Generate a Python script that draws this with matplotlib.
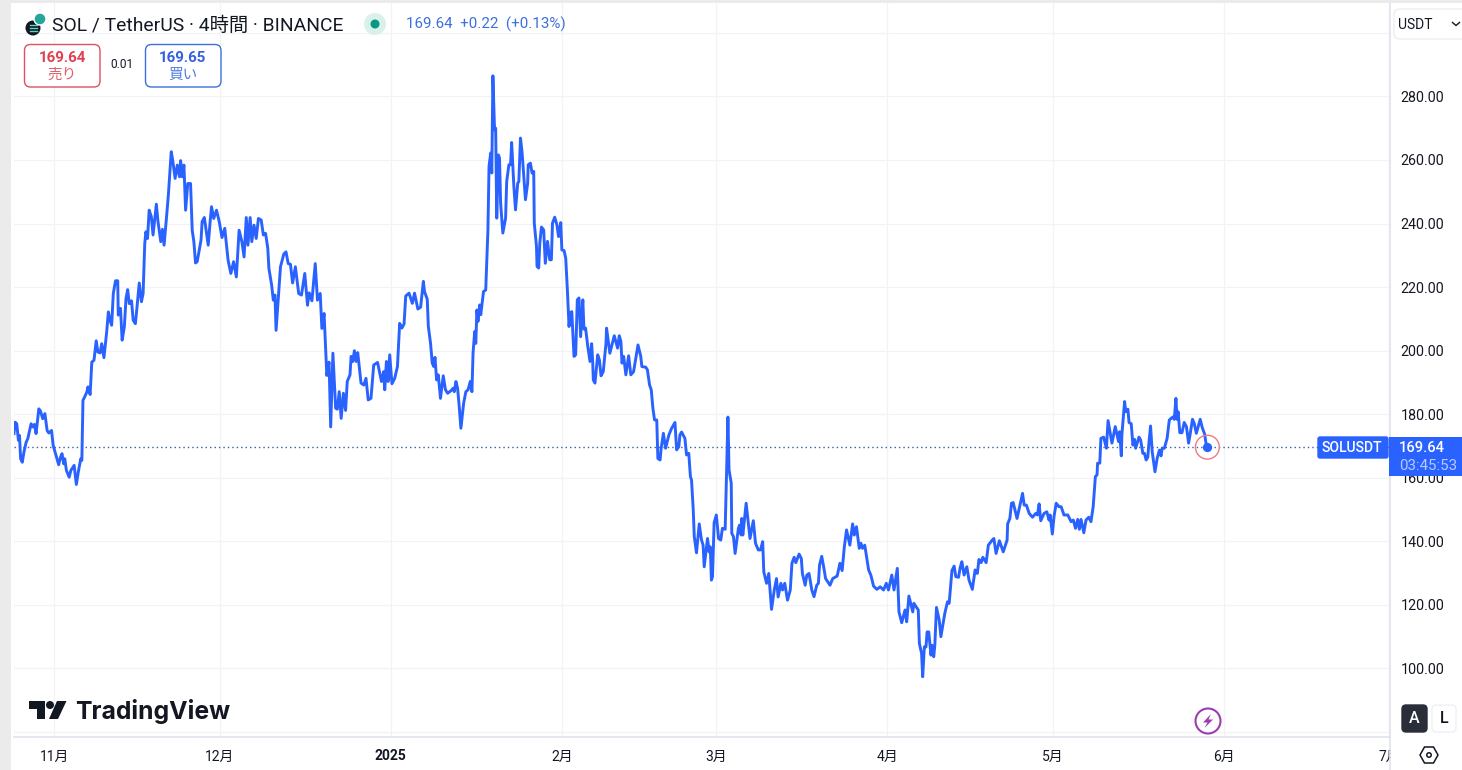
import matplotlib
matplotlib.use("Agg")
import matplotlib.pyplot as plt
from matplotlib.patches import Rectangle, FancyBboxPatch, Circle, Polygon

plt.rcParams['font.family'] = ['Roboto', 'Noto Sans CJK JP', 'DejaVu Sans']

# days since 2024-11-01, prices in USDT
days = [
    -7.3, -7.1, -6.8, -6.5, -6.3, -6.1, -5.8, -5.5, -5.1, -4.8,
    -4.2, -3.9, -3.6, -3.3, -2.8, -2.5, -2.1, -1.7, -1.3, -1.0,
    -0.5, -0.2, 0.2, 0.5, 0.8, 1.1, 1.4, 1.7, 1.9, 2.2,
    2.7, 3.0, 3.6, 4.0, 4.4, 4.8, 5.0, 5.2, 5.5, 5.9,
    6.1, 6.5, 6.8, 7.2, 7.6, 7.9, 8.3, 8.6, 9.0, 9.5,
    9.8, 10.1, 10.4, 10.7, 11.1, 11.5, 11.6, 12.0, 12.3, 12.7,
    13.0, 13.3, 13.6, 14.0, 14.3, 14.7, 15.0, 15.4, 15.8, 16.1,
    16.4, 16.6, 16.9, 17.2, 17.6, 17.9, 18.2, 18.5, 18.8, 19.3,
    19.6, 19.9, 20.3, 20.7, 21.2, 21.5, 21.9, 22.3, 22.7, 22.9,
    23.2, 23.5, 23.8, 24.2, 24.7, 25.0, 25.3, 25.6, 25.9, 26.6,
    26.8, 27.2, 27.9, 28.3, 28.5, 28.9, 29.4, 29.9, 30.4, 30.9,
    31.5, 32.0, 32.5, 33.0, 33.5, 34.0, 34.4, 34.8, 35.1, 35.5,
    35.8, 36.2, 36.6, 37.0, 37.5, 37.9, 38.3, 38.7, 38.9, 39.4,
    39.7, 40.0, 40.2, 40.7, 41.0, 41.6, 42.0, 42.4, 42.8, 43.2,
    43.7, 44.3, 44.8, 45.4, 45.9, 46.2, 46.7, 47.3, 47.7, 48.2,
    48.5, 48.9, 49.4, 49.8, 50.1, 50.4, 50.5, 51.0, 51.3, 51.65,
    52.0, 52.4, 52.8, 53.1, 53.6, 53.8, 54.1, 54.4, 54.7, 55.0,
    55.6, 56.1, 56.5, 56.9, 57.4, 57.9, 58.6, 59.3, 59.7, 59.9,
    60.2, 60.5, 60.8, 61.2, 61.7, 62.2, 62.6, 63.0, 63.4, 63.7,
    64.3, 64.9, 65.3, 65.9, 66.4, 66.9, 67.1, 67.6, 67.8, 68.2,
    68.5, 68.8, 69.0, 69.3, 69.6, 70.0, 70.5, 70.9, 71.3, 71.9,
    72.3, 72.5, 72.8, 73.1, 73.4, 73.7, 74.2, 74.6, 75.0, 75.4,
    75.7, 75.9, 76.2, 76.4, 76.6, 76.8, 77.1, 77.3, 77.8, 78.2,
    78.6, 78.8, 79.1, 79.3, 79.5, 79.8, 80.0, 80.2, 80.5, 80.7,
    80.9, 81.3, 81.8, 82.0, 82.4, 82.7, 82.9, 83.3, 83.6, 84.0,
    84.2, 84.5, 84.8, 85.4, 85.8, 85.9, 86.3, 86.6, 86.9, 87.0,
    87.4, 87.5, 87.8, 88.0, 88.3, 88.7, 89.0, 89.4, 89.8, 90.1,
    90.3, 90.7, 91.1, 91.4, 91.8, 92.0, 92.4, 92.7, 93.0, 93.3,
    93.5, 93.8, 94.2, 94.5, 94.8, 95.1, 95.4, 95.8, 96.0, 96.3,
    96.7, 97.1, 97.4, 97.6, 97.7, 98.0, 98.5, 98.8, 99.1, 99.5,
    100.0, 100.1, 100.7, 101.5, 102.1, 102.4, 102.7, 102.9, 103.2, 103.6,
    104.1, 104.5, 105.0, 105.8, 106.3, 106.5, 107.2, 107.5, 107.9, 108.2,
    108.5, 108.8, 109.2, 109.4, 109.8, 110.0, 110.4, 110.8, 111.4, 111.9,
    112.5, 112.8, 113.2, 113.4, 113.7, 114.3, 114.6, 115.0, 115.3, 115.5,
    115.8, 116.0, 116.4, 116.9, 117.3, 117.6, 117.8, 118.4, 118.7, 118.9,
    119.1, 119.3, 119.6, 120.0, 120.4, 120.8, 121.1, 121.6, 122.1, 122.3,
    122.7, 122.8, 123.1, 123.4, 124.0, 124.2, 124.5, 124.6, 124.8, 125.4,
    126.1, 126.7, 127.1, 127.6, 128.0, 128.4, 128.6, 129.1, 129.5, 130.0,
    130.5, 130.9, 131.2, 131.7, 132.0, 132.4, 132.9, 133.4, 133.7, 134.1,
    134.4, 135.0, 135.4, 135.6, 136.1, 136.4, 136.8, 137.3, 137.7, 138.2,
    138.5, 138.7, 139.1, 139.5, 139.8, 140.6, 141.1, 141.9, 142.4, 142.8,
    143.2, 143.6, 144.2, 144.7, 145.0, 145.4, 145.9, 146.2, 146.5, 146.9,
    147.6, 148.0, 148.5, 149.1, 149.7, 150.3, 150.8, 151.2, 151.8, 152.2,
    152.8, 153.1, 153.6, 154.2, 154.5, 154.9, 155.6, 155.8, 156.6, 156.8,
    157.2, 157.4, 157.7, 158.0, 158.2, 158.5, 158.9, 159.1, 159.4, 159.6,
    159.9, 160.4, 160.7, 161.0, 161.4, 161.9, 162.2, 162.7, 163.1, 163.4,
    163.9, 164.2, 164.5, 164.9, 165.4, 165.8, 166.4, 166.9, 167.3, 167.6,
    168.0, 168.3, 168.9, 169.3, 170.0, 170.3, 170.7, 171.3, 172.0, 172.7,
    172.8, 173.2, 173.5, 173.8, 174.5, 175.5, 175.8, 176.2, 176.7, 177.3,
    177.9, 178.2, 178.5, 178.8, 179.4, 179.9, 180.3, 180.5, 180.9, 181.2,
    181.6, 182.1, 182.5, 183.0, 183.7, 184.3, 184.7, 185.1, 185.5, 185.8,
    186.1, 186.6, 187.0, 187.5, 187.9, 188.3, 188.7, 189.0, 189.1, 189.5,
    189.7, 190.2, 190.7, 191.0, 191.7, 192.3, 192.9, 193.1, 193.4, 193.5,
    194.0, 194.2, 194.6, 194.8, 195.2, 195.5, 195.8, 196.0, 196.6, 196.9,
    197.3, 197.6, 197.9, 198.2, 198.4, 198.7, 199.0, 199.5, 199.9, 200.3,
    200.6, 200.8, 201.2, 201.7, 202.1, 202.7, 203.0, 203.3, 203.5, 203.7,
    204.0, 204.4, 204.8, 205.2, 205.6, 205.9, 206.3, 206.6, 207.0, 207.7,
    208.1, 208.5, 208.8, 209.0,
]
prices = [
    173.9, 177.5, 177.0, 171.8, 173.3, 166.0, 164.9, 168.1, 171.2, 172.3,
    177.0, 176.0, 176.8, 173.9, 181.7, 181.0, 178.6, 180.2, 174.9, 174.1,
    174.9, 170.2, 167.8, 166.0, 164.1, 166.3, 167.6, 164.4, 166.0, 162.3,
    160.2, 162.3, 163.9, 157.9, 162.3, 166.0, 165.5, 184.4, 185.4, 187.0,
    188.6, 186.2, 196.4, 197.0, 203.1, 199.6, 199.3, 202.2, 197.8, 205.9,
    212.2, 209.6, 208.0, 218.0, 222.0, 222.0, 211.2, 213.3, 203.3, 207.5,
    216.4, 219.2, 214.8, 215.7, 209.6, 208.5, 213.8, 221.3, 215.4, 218.0,
    233.7, 237.4, 235.3, 244.2, 242.1, 236.4, 241.1, 246.1, 240.6, 234.3,
    238.2, 233.2, 241.1, 249.5, 262.6, 259.5, 254.2, 258.4, 254.7, 259.8,
    254.7, 258.4, 244.2, 252.6, 252.6, 237.9, 234.3, 227.6, 228.0, 234.8,
    240.6, 241.9, 233.2, 241.6, 245.3, 241.6, 244.2, 240.6, 235.6, 238.5,
    228.5, 224.3, 228.0, 223.2, 237.9, 234.3, 229.5, 241.9, 233.2, 241.9,
    234.3, 239.5, 235.3, 241.6, 241.1, 236.4, 236.9, 232.2, 225.9, 220.6,
    215.9, 217.5, 206.4, 219.0, 226.4, 230.4, 231.1, 227.4, 227.2, 221.3,
    226.4, 218.0, 217.5, 224.3, 214.3, 218.2, 215.7, 227.4, 215.9, 218.0,
    207.0, 211.7, 192.2, 196.4, 176.0, 194.3, 199.2, 181.9, 181.6, 187.1,
    178.7, 186.6, 181.2, 190.3, 192.4, 198.2, 196.6, 200.0, 196.6, 199.4,
    189.8, 189.2, 191.3, 184.5, 185.0, 195.5, 196.3, 190.3, 193.4, 187.7,
    196.6, 190.3, 198.7, 189.6, 191.3, 195.0, 208.6, 207.1, 208.4, 217.2,
    218.1, 214.9, 218.1, 213.1, 213.7, 221.8, 218.6, 216.2, 207.6, 202.3,
    196.1, 195.0, 197.9, 190.8, 192.4, 185.0, 192.1, 187.7, 186.6, 187.4,
    188.2, 187.1, 190.3, 188.2, 182.4, 175.6, 183.5, 187.1, 187.7, 190.3,
    187.1, 199.2, 206.0, 202.3, 212.8, 209.2, 214.4, 211.3, 218.6, 219.1,
    238.0, 258.0, 262.2, 255.9, 286.5, 269.5, 270.0, 241.7, 261.6, 260.6,
    246.4, 237.0, 241.7, 253.2, 258.5, 258.5, 265.5, 251.7, 244.3, 252.7,
    253.2, 266.9, 262.2, 247.5, 252.7, 258.5, 259.0, 255.9, 256.4, 240.1,
    232.8, 226.5, 226.0, 233.8, 238.9, 238.0, 227.5, 234.4, 228.6, 228.6,
    240.1, 242.0, 239.6, 235.9, 240.3, 231.7, 231.5, 229.1, 219.1, 207.6,
    211.8, 212.3, 198.2, 198.7, 216.0, 216.6, 204.4, 216.0, 206.8, 207.1,
    201.3, 196.6, 202.2, 196.1, 190.8, 189.8, 198.7, 197.1, 192.1, 193.4,
    202.3, 207.1, 199.2, 204.7, 200.8, 204.7, 202.9, 196.1, 198.2, 192.4,
    198.4, 192.4, 193.4, 201.8, 198.2, 195.0, 194.8, 194.0, 189.2, 187.7,
    181.9, 178.2, 178.2, 166.1, 165.6, 169.3, 174.0, 169.3, 173.5, 175.6,
    177.4, 168.8, 169.8, 173.5, 174.4, 172.4, 167.2, 167.7, 160.4, 159.3,
    150.4, 141.5, 136.4, 145.5, 140.5, 138.8, 132.0, 140.9, 136.7, 138.3,
    127.8, 128.9, 145.9, 148.3, 140.9, 140.4, 144.1, 143.8, 179.1, 162.5,
    158.3, 142.5, 141.5, 136.2, 144.1, 145.1, 142.0, 147.2, 142.0, 152.0,
    140.9, 146.5, 139.4, 137.3, 137.3, 139.9, 130.4, 126.8, 129.9, 118.6,
    124.7, 128.3, 122.5, 126.8, 124.7, 126.8, 121.5, 124.7, 133.1, 135.0,
    133.3, 136.0, 134.6, 129.9, 126.2, 129.4, 129.9, 124.7, 122.6, 126.2,
    126.8, 132.5, 135.3, 131.5, 128.3, 126.2, 128.3, 129.1, 133.1, 130.8,
    138.3, 143.6, 138.8, 145.5, 142.0, 144.6, 137.8, 139.4, 137.8, 138.8,
    131.0, 129.4, 125.9, 124.9, 125.7, 124.7, 126.8, 124.7, 129.4, 124.7,
    131.5, 117.8, 114.4, 118.4, 114.7, 122.8, 117.8, 120.5, 118.4, 107.9,
    104.7, 97.4, 106.8, 106.8, 111.5, 111.5, 104.2, 107.3, 103.7, 107.3,
    119.2, 115.2, 110.0, 113.1, 117.3, 121.0, 120.5, 130.8, 132.2, 128.9,
    128.7, 131.8, 133.6, 129.4, 132.0, 127.8, 124.9, 131.0, 129.9, 134.3,
    133.3, 135.0, 133.3, 138.8, 140.4, 140.9, 136.2, 140.2, 136.7, 140.4,
    145.5, 147.2, 152.0, 152.2, 147.2, 155.1, 151.4, 151.4, 148.8, 147.6,
    148.8, 148.3, 151.8, 146.5, 148.8, 149.3, 146.7, 148.3, 142.3, 147.8,
    152.0, 150.9, 150.9, 148.3, 148.3, 146.2, 146.7, 144.1, 146.9, 143.8,
    146.9, 142.7, 146.7, 147.6, 146.2, 150.9, 160.4, 160.9, 164.6, 164.6,
    172.4, 172.8, 169.3, 178.0, 170.9, 176.1, 171.4, 174.5, 166.9, 173.5,
    184.0, 180.8, 181.6, 177.4, 177.0, 170.3, 172.1, 169.3, 172.8, 171.9,
    167.7, 167.7, 165.6, 166.5, 170.9, 176.3, 168.2, 161.9, 166.1, 168.7,
    166.9, 169.3, 169.3, 172.4, 178.2, 179.1, 178.4, 185.0, 178.4, 180.8,
    174.2, 174.2, 177.4, 176.1, 170.9, 174.0, 178.4, 177.2, 174.0, 178.4,
    175.6, 173.8, 170.3, 169.64,
]
last_price = 169.64

month_days = [0, 30, 61, 92, 120, 151, 181, 212, 242]
month_labels = ['11月', '12月', '2025', '2月', '3月', '4月', '5月', '6月', '7月']
price_ticks = [80, 100, 120, 140, 160, 180, 200, 220, 240, 260, 280, 300]
price_labels = ['', '100.00', '120.00', '140.00', '160.00', '180.00', '200.00',
                '220.00', '240.00', '260.00', '280.00', '']

BLUE = '#2962ff'
GRID = '#f2f3f6'
BORDER = '#e0e3eb'
INK = '#131722'
W, H = 1462, 770

fig = plt.figure(figsize=(W / 100, H / 100), dpi=100, facecolor='white')

# price pane, x 14-1390 and y 3-737 in image pixels
ax = fig.add_axes([14 / W, 1 - 737 / H, (1390 - 14) / W, (737 - 3) / H])
ax.plot(days, prices, color=BLUE, lw=2.1, solid_joinstyle='round', zorder=3)
ax.axhline(last_price, color='#3a5ca8', lw=1, ls=(0, (1, 2.2)), zorder=2)
ax.scatter(days[-1], last_price, s=32, color=BLUE, zorder=4)
ax.scatter(days[-1], last_price, s=295, facecolor='none', edgecolor='#ee7b82', lw=1, zorder=4)

ax.set_xlim(-7.3, 242.1)
ax.set_ylim(78.44, 309.4)
ax.set_xticks(month_days)
ax.set_xticklabels(month_labels, fontsize=10, color=INK)
ax.get_xticklabels()[2].set_fontweight('bold')
ax.yaxis.tick_right()
ax.set_yticks(price_ticks)
ax.set_yticklabels(price_labels, fontsize=10.3, color=INK)
ax.tick_params(axis='x', length=0, pad=9)
ax.tick_params(axis='y', length=0, pad=7.5)
ax.grid(True, color=GRID, lw=0.9)
ax.set_axisbelow(True)
for side in ['left', 'top']:
    ax.spines[side].set_visible(False)
for side in ['right', 'bottom']:
    ax.spines[side].set_color(BORDER)
    ax.spines[side].set_linewidth(1.2)

# everything around the chart is placed in image pixels
ov = fig.add_axes([0, 0, 1, 1], facecolor='none')
ov.set_xlim(0, W)
ov.set_ylim(H, 0)
ov.axis('off')


def box(x0, y0, x1, y1, edge, face='white', r=6, lw=1.0):
    ov.add_patch(FancyBboxPatch((x0 + r, y0 + r), x1 - x0 - 2 * r, y1 - y0 - 2 * r,
                                boxstyle=f'round,pad={r}', fc=face, ec=edge, lw=lw))


def label(x, y, s, size, color=INK, ha='center', **kw):
    ov.text(x, y, s, fontsize=size, color=color, ha=ha, va='center', **kw)


ov.add_patch(Rectangle((0, 0), 11, H, fc='#ebebeb', ec='none'))
ov.add_patch(Rectangle((0, 0), W, 3, fc='#ebebeb', ec='none'))
ov.add_patch(Rectangle((1391, 738), W - 1391, H - 738, fc='white', ec='none'))
ov.plot([1390, 1390], [738, H], color=BORDER, lw=1.2)

# symbol header
ov.add_patch(Circle((33, 28), 7.5, fc='#131722', ec='none'))
ov.add_patch(Circle((40, 19), 6, fc='#26a69a', ec='white', lw=1))
for yy in [25, 28, 31]:
    ov.plot([29.5, 36.5], [yy, yy], color='#5fd3c6', lw=1)
label(52, 25.5, 'SOL / TetherUS · 4時間 · BINANCE', 13.9, ha='left')
ov.add_patch(Circle((375, 24), 11, fc='#d9f1ea', ec='none'))
ov.add_patch(Circle((375, 24), 4.5, fc='#089981', ec='none'))
label(406, 24.5, '169.64  +0.22  (+0.13%)', 10.9, color='#3d6fdc', ha='left')

# sell / buy buttons
box(24.5, 44.5, 100, 87, '#e0505e')
label(62, 58.5, '169.64', 10.9, color='#e0404f', fontweight='bold')
label(62, 75, '売り', 10.5, color='#e0606c')
label(122, 65, '0.01', 8.6)
box(145.5, 44.5, 221, 87, '#3d6fdc')
label(183, 58.5, '169.65', 10.9, color='#3560e0', fontweight='bold')
label(183, 75, '買い', 10.5, color='#4c7ce0')

# currency selector
box(1394, 9, 1470, 39, '#eceef2')
label(1398, 25, 'USDT', 10, ha='left')
ov.plot([1452.5, 1456, 1459.5], [22.5, 25.5, 22.5], color=INK, lw=1)

# last price tags
box(1318, 437, 1388, 458, BLUE, face=BLUE, r=2)
label(1352, 447.5, 'SOLUSDT', 10, color='white', fontweight='medium')
ov.add_patch(Rectangle((1389, 437), W - 1389, 39, fc=BLUE, ec='none'))
label(1422, 447.5, '169.64', 10.6, color='white', fontweight='medium')
label(1428.5, 466, '03:45:53', 10.8, color='#b7c9ff')

# TradingView logo
ov.add_patch(Polygon([(29, 701), (44.5, 701), (44.5, 719), (37, 719), (37, 708.5), (29, 708.5)],
                     fc='#131722', ec='none'))
ov.add_patch(Circle((50, 705), 4, fc='#131722', ec='none'))
ov.add_patch(Polygon([(57, 701), (66.5, 701), (58, 719), (49, 719)], fc='#131722', ec='none'))
label(75, 711, 'TradingView', 17.8, ha='left', family=['Inter', 'DejaVu Sans'], fontweight='bold')

# lightning badge
ov.add_patch(Circle((1208, 721), 12.5, fc='white', ec='#9c3cb0', lw=1.5))
ov.add_patch(Polygon([(1211, 714), (1203, 722.5), (1207.5, 722.5), (1204.5, 728),
                      (1213, 719.5), (1208.5, 719.5)], fc='#9c3cb0', ec='none'))

# scale buttons and settings
box(1402, 705, 1427, 732, '#2a2e39', face='#2a2e39', r=4)
label(1414.5, 718.5, 'A', 11.5, color='white', fontweight='medium')
box(1432, 705, 1456, 732, '#eef0f3', r=4)
label(1444, 718.5, 'L', 11.5, fontweight='medium')
ov.add_patch(Polygon([(1420, 755), (1424.5, 747), (1433.5, 747), (1438, 755),
                      (1433.5, 763), (1424.5, 763)], fc='white', ec=INK, lw=1.1))
ov.add_patch(Circle((1429, 755), 2.2, fc='white', ec=INK, lw=1.1))

fig.savefig('out.png', dpi=100)
